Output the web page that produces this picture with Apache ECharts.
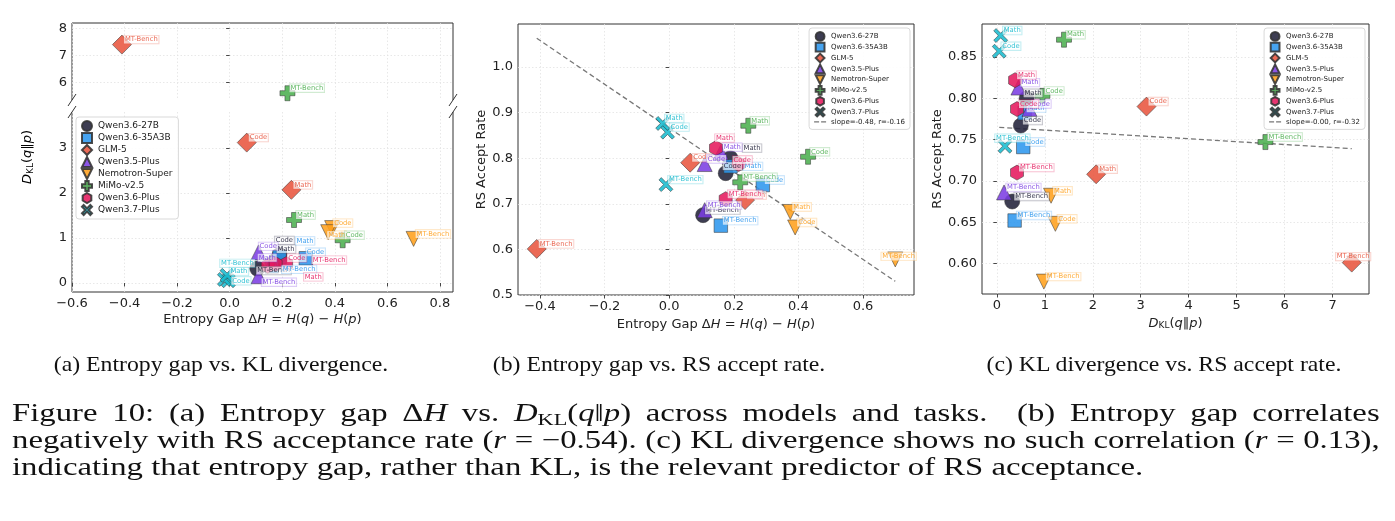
<!DOCTYPE html>
<html>
<head>
<meta charset="utf-8">
<script src="https://cdn.jsdelivr.net/npm/echarts@6/dist/echarts.min.js"></script>
<style>
  body { margin: 0; background: #fff; }
  #chart { position: absolute; left: 0; top: 0; width: 1395px; height: 521px; }
  .sub { position: absolute; top: 351px; width: 500px; text-align: center; font-family: 'Liberation Serif', serif; font-size: 22px; color: #111; transform: scaleX(1.08); }
  #cap { position: absolute; left: 12px; top: 399px; width: 1044px; font-family: 'Liberation Serif', serif; font-size: 25px; line-height: 27px; color: #111; transform: scaleX(1.31); transform-origin: 0 0; }
  #cap .j { text-align: justify; text-align-last: justify; }
  #cap sub { font-size: 17px; line-height: 0; vertical-align: -4px; }
</style>
</head>
<body>
<div id="chart"></div>
<div class="sub" style="left:-29px">(a) Entropy gap vs. KL divergence.</div>
<div class="sub" style="left:409px">(b) Entropy gap vs. RS accept rate.</div>
<div class="sub" style="left:914px">(c) KL divergence vs. RS accept rate.</div>
<div id="cap">
  <div class="j">Figure 10: (a) Entropy gap Δ<i>H</i> vs. <i>D</i><sub>KL</sub>(<i>q</i>‖<i>p</i>) across models and tasks. &nbsp;(b) Entropy gap correlates</div>
  <div class="j">negatively with RS acceptance rate (<i>r</i> = −0.54). (c) KL divergence shows no such correlation (<i>r</i> = 0.13),</div>
  <div>indicating that entropy gap, rather than KL, is the relevant predictor of RS acceptance.</div>
</div>
<script>
const models = ['Qwen3.6-27B', 'Qwen3.6-35A3B', 'GLM-5', 'Qwen3.5-Plus', 'Nemotron-Super', 'MiMo-v2.5', 'Qwen3.6-Plus', 'Qwen3.7-Plus']
const taskNames = ['Code', 'Math', 'MT-Bench']

// one row per model, columns follow taskNames
const entropyGap = [
    [0.175, 0.19, 0.105],
    [0.29, 0.19, 0.16],
    [0.065, 0.235, -0.41],
    [0.11, 0.16, 0.11],
    [0.39, 0.375, 0.70],
    [0.43, 0.245, 0.22],
    [0.215, 0.145, 0.175],
    [-0.005, -0.02, -0.01]
]
const klDivergence = [
    [0.50, 0.62, 0.32],
    [0.55, 0.58, 0.37],
    [3.12, 2.07, 7.40],
    [0.68, 0.45, 0.15],
    [1.22, 1.13, 0.98],
    [0.95, 1.40, 5.60],
    [0.42, 0.38, 0.42],
    [0.05, 0.08, 0.17]
]
const acceptRate = [
    [0.767, 0.800, 0.675],
    [0.741, 0.782, 0.652],
    [0.790, 0.708, 0.601],
    [0.787, 0.813, 0.686],
    [0.648, 0.682, 0.578],
    [0.803, 0.871, 0.747],
    [0.787, 0.822, 0.710],
    [0.857, 0.876, 0.742]
]

// linear fits shown in (b) and (c)
const fitGapAccept = { slope: -0.48, intercept: 0.866, r: -0.16 }
const fitKlAccept = { slope: -0.0035, intercept: 0.765, r: -0.32 }

// tick labels
const ticksAX = [-0.6, -0.4, -0.2, 0, 0.2, 0.4, 0.6, 0.8]
const ticksATopY = [6, 7, 8]
const ticksABotY = [0, 1, 2, 3]
const ticksBX = [-0.4, -0.2, 0, 0.2, 0.4, 0.6]
const ticksBY = [0.5, 0.6, 0.7, 0.8, 0.9, 1.0]
const ticksCX = [0, 1, 2, 3, 4, 5, 6, 7]
const ticksCY = [0.60, 0.65, 0.70, 0.75, 0.80, 0.85]

// marker look per model
const colors = ['#22223a', '#2e97ee', '#e8553f', '#7c3fe2', '#ffa01c', '#4caf50', '#e5195d', '#19bccf']
const symbols = [
    'circle',
    'path://M0,0H1V1H0Z',
    'path://M1,0L2,1L1,2L0,1Z',
    'path://M1,0L2,2L0,2Z',
    'path://M0,0L2,0L1,2Z',
    'path://M1,0H2V1H3V2H2V3H1V2H0V1H1Z',
    'path://M0.866,0L1.732,0.5L1.732,1.5L0.866,2L0,1.5L0,0.5Z',
    'path://M1,0L3,2L5,0L6,1L4,3L6,5L5,6L3,4L1,6L0,5L2,3L0,1Z'
]
const symbolSizes = [15, 13.5, 19, 15, 15, 15, 15, 14]
const dashIcon = 'path://M0,0H5V1.3H0Z M7,0H12V1.3H7Z'

// annotation text shifts (px from marker centre), like the label de-overlap of the original
const labelShift = [2, -5]
const labelNudges = {
    'a|Qwen3.6-27B|Code': [-1, -20],
    'a|Qwen3.6-27B|Math': [-3, -6],
    'a|Qwen3.6-27B|MT-Bench': [-1, 2],
    'a|Qwen3.6-35A3B|Code': [0, -6],
    'a|Qwen3.6-35A3B|Math': [16, -16],
    'a|Qwen3.6-35A3B|MT-Bench': [10, 3],
    'a|Qwen3.6-Plus|Code': [1, -6],
    'a|Qwen3.6-Plus|Math': [36, 11],
    'a|Qwen3.6-Plus|MT-Bench': [36, -4],
    'a|Qwen3.5-Plus|Code': [0, -6],
    'a|Qwen3.5-Plus|Math': [-14, -5],
    'a|Qwen3.5-Plus|MT-Bench': [3, 6],
    'a|Qwen3.7-Plus|Code': [3, 0],
    'a|Qwen3.7-Plus|Math': [5, -8],
    'a|Qwen3.7-Plus|MT-Bench': [-7, -12],
    'a|Nemotron-Super|Math': [-1, 3],
    'a|Nemotron-Super|Code': [1, -5],
    'b|Qwen3.6-27B|Code': [-3, -7],
    'b|Qwen3.6-27B|Math': [12, -10],
    'b|Qwen3.6-35A3B|Math': [13, 0],
    'b|Qwen3.6-Plus|Code': [-6, -4],
    'b|Qwen3.6-Plus|Math': [-1, -10],
    'b|Nemotron-Super|MT-Bench': [-14, -3],
    'c|GLM-5|MT-Bench': [-16, -6],
    'c|Qwen3.7-Plus|MT-Bench': [-10, -8],
    'c|Qwen3.6-27B|Math': [-3, -5]
}

const FONT = 'DejaVu Sans'
const fixMinus = s => s.replace('-', '\u2212')

const rgba = (hex, a) => {
    const n = parseInt(hex.slice(1), 16)
    return `rgba(${(n >> 16) & 255},${(n >> 8) & 255},${n & 255},${a})`
}

const makeAxis = (gridIndex, min, max, ticks, digits, opts = {}) => ({
    type: 'value',
    gridIndex,
    min,
    max,
    axisLine: { show: false },
    axisTick: {
        show: opts.showTicks !== false,
        customValues: ticks,
        length: 3.5,
        lineStyle: { color: '#333', width: 0.9 }
    },
    axisLabel: {
        show: opts.showLabels !== false,
        customValues: ticks,
        margin: 5,
        fontFamily: FONT,
        fontSize: 13,
        color: '#222',
        formatter: v => fixMinus(v.toFixed(digits))
    },
    splitLine: { show: true, lineStyle: { color: '#e2e2e2', type: [1.5, 2], width: 0.8 } },
    name: opts.name,
    nameLocation: 'middle',
    nameGap: opts.nameGap,
    nameTextStyle: opts.nameTextStyle
})

const mathRich = {
    i: { fontFamily: FONT, fontSize: 13, fontStyle: 'italic', color: '#222' },
    n: { fontFamily: FONT, fontSize: 13, color: '#222' },
    s: { fontFamily: FONT, fontSize: 9, color: '#222', padding: [5, 0, 0, 0] }
}
const gapName = '{n|Entropy Gap Δ}{i|H}{n| = }{i|H}{n|(}{i|q}{n|) − }{i|H}{n|(}{i|p}{n|)}'
const klName = '{i|D}{s|KL}{n|(}{i|q}{n|‖}{i|p}{n|)}'

const xAxis = [
    makeAxis(0, -0.6, 0.85, ticksAX, 1, { showLabels: false, showTicks: false }),
    makeAxis(1, -0.6, 0.85, ticksAX, 1, { name: gapName, nameGap: 21, nameTextStyle: { rich: mathRich } }),
    makeAxis(2, -0.468, 0.758, ticksBX, 1, { name: gapName, nameGap: 21, nameTextStyle: { rich: mathRich } }),
    makeAxis(3, -0.31, 7.76, ticksCX, 0, { name: klName, nameGap: 20, nameTextStyle: { rich: mathRich } })
]
const yAxis = [
    makeAxis(0, 5.35, 8.2, ticksATopY, 0),
    makeAxis(1, -0.2, 3.8, ticksABotY, 0),
    makeAxis(2, 0.5, 1.094, ticksBY, 1, {
        name: 'RS Accept Rate', nameGap: 29,
        nameTextStyle: { fontFamily: FONT, fontSize: 13, color: '#222' }
    }),
    makeAxis(3, 0.563, 0.89, ticksCY, 2, {
        name: 'RS Accept Rate', nameGap: 37,
        nameTextStyle: { fontFamily: FONT, fontSize: 13, color: '#222' }
    })
]

// panels: [key, xValues, yValues, axis index]
const panels = [
    ['a', entropyGap, klDivergence, 0],
    ['a', entropyGap, klDivergence, 1],
    ['b', entropyGap, acceptRate, 2],
    ['c', klDivergence, acceptRate, 3]
]

const series = []
panels.forEach(([key, xs, ys, ax]) => {
    models.forEach((name, m) => {
        series.push({
            type: 'scatter',
            name,
            xAxisIndex: ax,
            yAxisIndex: ax,
            symbol: symbols[m],
            symbolSize: symbolSizes[m],
            symbolKeepAspect: true,
            clip: true,
            itemStyle: { color: colors[m], opacity: 0.88, borderColor: '#333', borderWidth: 0.6 },
            label: {
                show: true,
                position: 'inside',
                align: 'left',
                verticalAlign: 'middle',
                offset: labelShift,
                formatter: p => p.data.value[2],
                fontFamily: FONT,
                fontSize: 6.8,
                color: colors[m],
                backgroundColor: 'rgba(255,255,255,0.75)',
                borderColor: rgba(colors[m], 0.35),
                borderWidth: 0.7,
                padding: [1, 1, 0, 1]
            },
            emphasis: { disabled: true },
            data: taskNames.map((t, j) => {
                const nudge = labelNudges[`${key}|${name}|${t}`]
                const item = { value: [xs[m][j], ys[m][j], t] }
                if (nudge) item.label = { offset: nudge }
                return item
            })
        })
    })
})

const fitLine = (fit, xs, ax) => {
    const all = xs.flat()
    const lo = Math.min(...all)
    const hi = Math.max(...all)
    return {
        type: 'line',
        name: `slope=${fit.slope.toFixed(2)}, r=${fit.r.toFixed(2)}`,
        xAxisIndex: ax,
        yAxisIndex: ax,
        symbol: 'none',
        z: 1,
        lineStyle: { color: '#777', width: 1.3, type: [5, 3] },
        itemStyle: { color: '#777' },
        data: [[lo, fit.intercept + fit.slope * lo], [hi, fit.intercept + fit.slope * hi]]
    }
}
const lineB = fitLine(fitGapAccept, entropyGap, 2)
const lineC = fitLine(fitKlAccept, klDivergence, 3)
series.push(lineB, lineC)

const legendBase = {
    orient: 'vertical',
    backgroundColor: 'rgba(255,255,255,0.9)',
    borderColor: '#cfcfcf',
    borderWidth: 0.8,
    borderRadius: 3,
    selectedMode: false
}
const smallLegend = (right, line) => Object.assign({}, legendBase, {
    right, top: 28,
    data: models.concat({ name: line.name, icon: dashIcon }),
    itemWidth: 12, itemHeight: 8.8, itemGap: 0,
    padding: [3, 5, 3, 5],
    textStyle: { fontFamily: FONT, fontSize: 7, color: '#222', lineHeight: 9 }
})

// panel (a) is a broken axis: two grids and hand drawn spines
const aL = 72, aR = 453, aT = 23, aB1 = 100, aT2 = 112, aB = 292
const spine = (x1, y1, x2, y2) => ({
    type: 'line',
    shape: { x1, y1, x2, y2 },
    style: { stroke: '#333', lineWidth: 1 },
    silent: true
})
const breakMark = (x, y) => spine(x - 4, y + 6, x + 4, y - 6)

const option = {
    animation: false,
    grid: [
        { left: aL, top: aT, width: aR - aL, height: aB1 - aT },
        { left: aL, top: aT2, width: aR - aL, height: aB - aT2 },
        { left: 518, top: 24, width: 396, height: 271, show: true, borderColor: '#333', borderWidth: 1 },
        { left: 982, top: 24, width: 387, height: 270, show: true, borderColor: '#333', borderWidth: 1 }
    ],
    xAxis,
    yAxis,
    legend: [
        Object.assign({}, legendBase, {
            left: 76, top: 117, data: models.slice(),
            itemWidth: 12, itemHeight: 10, itemGap: 0,
            padding: [3, 6, 3, 5],
            textStyle: { fontFamily: FONT, fontSize: 9, color: '#222', lineHeight: 10 }
        }),
        smallLegend(1395 - 910, lineB),
        smallLegend(1395 - 1365, lineC)
    ],
    graphic: [
        spine(aL, aT, aR, aT),
        spine(aL, aT, aL, aB1),
        spine(aR, aT, aR, aB1),
        spine(aL, aT2, aL, aB),
        spine(aR, aT2, aR, aB),
        spine(aL, aB, aR, aB),
        breakMark(aL, aB1),
        breakMark(aR, aB1),
        breakMark(aL, aT2),
        breakMark(aR, aT2),
        {
            type: 'text',
            x: 28,
            y: 157,
            rotation: Math.PI / 2,
            silent: true,
            style: {
                text: klName,
                rich: mathRich,
                align: 'center',
                verticalAlign: 'middle'
            }
        }
    ],
    series
}

const chart = echarts.init(document.getElementById('chart'), null, { renderer: 'canvas' })
chart.setOption(option)
</script>
</body>
</html>
